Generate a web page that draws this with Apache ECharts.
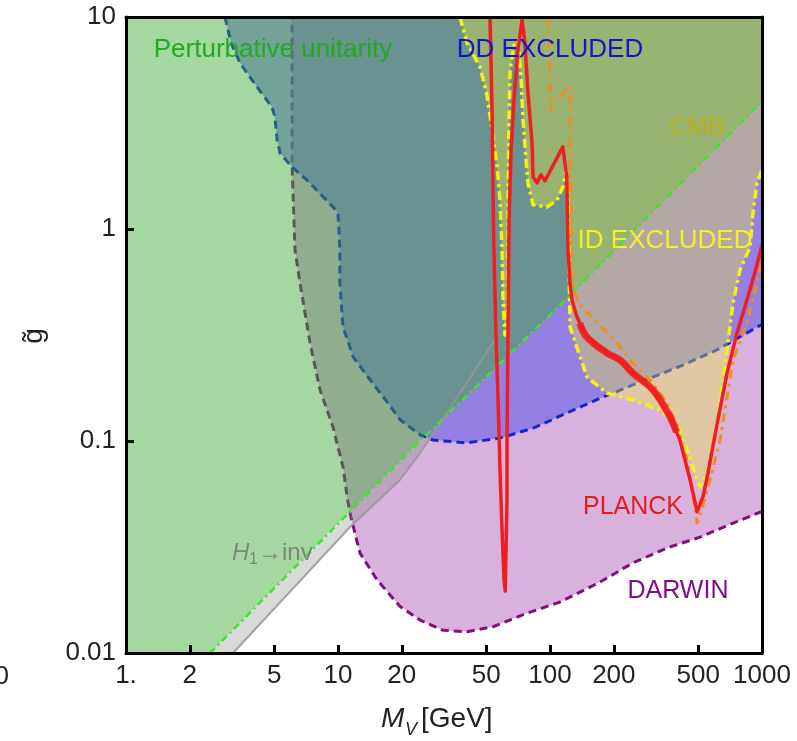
<!DOCTYPE html>
<html>
<head>
<meta charset="utf-8">
<script src="https://cdn.jsdelivr.net/npm/echarts@6/dist/echarts.min.js"></script>
<style>
html, body { margin: 0; padding: 0; background: #fff; }
#chart { width: 797px; height: 741px; }
</style>
</head>
<body>
<div id="chart"></div>
<script>
// Axis ranges and tick values (mass in GeV, coupling g~)
const massRange = [1, 1000];
const couplingRange = [0.01, 10];
const massTicks = [1, 2, 5, 10, 20, 50, 100, 200, 500, 1000];
const couplingTicks = [0.01, 0.1, 1, 10];

// Perturbative unitarity bound (region above/left is excluded)
const unitarityLine = [[2.49, 0.01], [24.4, 0.1], [120, 0.47], [1000, 4.0]];

// Direct detection exclusion boundary (excluded above)
const ddBoundary = [
  [2.93, 10], [3.13, 7.54], [3.45, 6.07], [4.15, 4.68], [4.88, 3.76], [5.04, 3.38],
  [5.16, 2.63], [5.33, 2.28], [6.07, 1.96], [7.14, 1.70], [9.47, 1.27], [10.0, 1.19],
  [10.1, 0.99], [10.2, 0.80], [10.2, 0.556], [10.56, 0.345], [11.8, 0.249], [14.2, 0.194],
  [17.2, 0.151], [19.6, 0.126], [24.4, 0.107], [28.1, 0.101], [40.6, 0.098], [58.1, 0.1033],
  [83.2, 0.115], [120, 0.1355], [172, 0.159], [246, 0.184], [424, 0.228], [613, 0.269],
  [1000, 0.355]
];

// DARWIN projected sensitivity
const darwinBoundary = [
  [1000, 0.0465], [979, 0.0458], [730, 0.041], [510, 0.0352], [356, 0.0313], [246, 0.0266],
  [172, 0.0216], [111.5, 0.0174], [77.9, 0.0154], [53.8, 0.0133], [40.6, 0.0126], [31.3, 0.0128],
  [24.4, 0.0143], [19.6, 0.0166], [15.3, 0.0221], [12.7, 0.0296], [11.5, 0.0438], [11.1, 0.0527],
  [10.56, 0.0754], [9.47, 0.1164], [8.23, 0.174], [7.38, 0.29], [6.62, 0.556], [6.27, 0.796],
  [6.07, 2.0], [6.07, 10]
];

// Invisible Higgs decay limit
const h1invLine = [[3.2, 0.01], [11.4, 0.0393], [19.6, 0.0655], [24.4, 0.0878], [37.6, 0.168], [55, 0.30]];
const h1invBand = [[2.49, 0.01], [30, 0.122], [24.4, 0.0878], [19.6, 0.0655], [11.4, 0.0393], [3.2, 0.01]];

// Indirect detection exclusion boundary
const idBoundary = [
  [37.6, 10], [40.6, 7.54], [46.8, 5.81], [50.4, 4.29], [53.3, 2.93], [56.2, 2.0], [58.1, 1.37],
  [59.4, 0.796], [60.0, 0.462], [61.3, 0.316], [63.4, 0.462], [63.4, 1.37], [64.1, 3.27],
  [64.8, 5.63], [67.6, 7.37], [70.6, 7.78], [73.0, 5.21], [74.6, 3.27], [77.1, 2.12], [78.7, 1.65],
  [83.2, 1.30], [96.8, 1.27], [108, 1.37], [115, 1.58], [119, 1.90], [121.6, 1.37], [122.9, 0.714],
  [124.3, 0.345], [149.5, 0.2], [185.8, 0.168], [246, 0.156], [330, 0.14], [397, 0.119],
  [443, 0.0907], [494, 0.0655], [510, 0.0607], [550, 0.0706], [613, 0.1164], [655, 0.194],
  [684, 0.269], [730, 0.448], [787, 0.641], [878, 0.823], [907, 1.19], [947, 1.65], [1000, 1.90]
];

// CMB constraint contour
const cmbLine = [
  [97.9, 10], [98.9, 6.99], [100, 5.04], [101, 3.64], [105.6, 4.06], [111.5, 4.19], [119, 4.53],
  [124.3, 4.68], [124.3, 2.19], [125.6, 1.37], [125.6, 0.714], [128.4, 0.516], [138.5, 0.438],
  [154.4, 0.393], [172, 0.352], [207, 0.29], [246, 0.233], [296, 0.194], [349, 0.156], [397, 0.119],
  [443, 0.0813], [473, 0.0556], [494, 0.041], [527, 0.0499], [568, 0.0655], [634, 0.101],
  [684, 0.161], [730, 0.241], [849, 0.36], [947, 0.556], [1000, 0.699]
];

// Planck relic density curve
const planckCurve = [
  [52.1, 10], [53.3, 3.64], [53.8, 1.58], [54.4, 0.796], [55.5, 0.334], [56.9, 0.156],
  [58.1, 0.0731], [59.4, 0.038], [60.7, 0.0221], [61.5, 0.0196], [62.7, 0.0198], [62.7, 0.0527],
  [62.7, 0.104], [63.4, 0.334], [64.1, 1.10], [65.5, 2.36], [67.6, 4.06], [70.6, 7.0], [73.8, 9.68],
  [76.2, 7.54], [78.7, 4.38], [82.3, 2.54], [83.2, 1.76], [86.9, 1.65], [90.7, 1.80], [94.7, 1.69],
  [115, 2.44], [120, 1.76], [121.6, 0.796], [124.3, 0.556], [127, 0.462], [134, 0.384],
  [149.5, 0.309], [185.8, 0.26], [214, 0.241], [246, 0.209], [306, 0.174], [368, 0.13],
  [410, 0.101], [458, 0.0655], [494, 0.0464], [527, 0.0546], [550, 0.0668], [613, 0.119],
  [684, 0.209], [762, 0.323], [849, 0.462], [927, 0.627], [1000, 0.84]
];
const planckBand = [[138, 0.36], [149.5, 0.309], [185.8, 0.26], [214, 0.241], [246, 0.209], [306, 0.174], [368, 0.13], [395, 0.11]];

const FONT = "'Liberation Sans', Arial, sans-serif";

const topRight = [massRange[1], couplingRange[1]];
const topLeft = [massRange[0], couplingRange[1]];
const bottomLeft = [massRange[0], couplingRange[0]];

function region(name, pts, fill, z) {
  return {
    name, type: 'custom', coordinateSystem: 'cartesian2d', z, silent: true, animation: false,
    data: [[massRange[0], 1]],
    renderItem(params, api) {
      return {
        type: 'polygon',
        shape: { points: pts.map(p => api.coord(p)) },
        style: { fill }
      };
    }
  };
}

function curve(name, pts, color, width, type, z, smooth) {
  return {
    name, type: 'line', data: pts, z, showSymbol: false, symbol: 'none', silent: true,
    animation: false, smooth: smooth || false,
    lineStyle: { color, width, type, cap: 'butt', join: 'round' }
  };
}

const series = [
  region('DARWIN', darwinBoundary.concat([topRight]), 'rgb(216,178,220)', 1),
  curve('DARWIN line', darwinBoundary, '#80107f', 3, [8, 5], 2),
  region('H1 inv', h1invBand, 'rgba(128,128,128,0.30)', 3),
  region('DD', ddBoundary.concat([topRight]), 'rgba(103,95,230,0.6)', 4),
  curve('DD line', ddBoundary, '#1428d2', 3, [8, 5], 5),
  region('Unitarity', unitarityLine.concat([topRight, topLeft, bottomLeft]), 'rgba(55,168,44,0.45)', 6),
  region('ID', idBoundary.concat([topRight]), 'rgba(236,238,62,0.36)', 7),
  curve('H1 inv line', h1invLine, 'rgba(150,150,150,0.85)', 2, 'solid', 8),
  curve('Unitarity line', unitarityLine, '#3ce628', 2.5, [7, 4, 2, 4], 9),
  curve('CMB line', cmbLine, '#f58c1e', 3, [9, 5, 3, 5], 10),
  curve('ID line', idBoundary, '#f8f010', 3.5, [9, 4, 3, 4], 11),
  curve('Planck band', planckBand, 'rgba(240,30,30,0.9)', 7, 'solid', 12, 0.4),
  curve('Planck', planckCurve, '#f01e1e', 3.5, 'solid', 13)
];

function massLabel(v) {
  if (Math.abs(v - 1) < 1e-9) return '1.';
  return String(Math.round(v));
}
function couplingLabel(v) {
  return String(parseFloat(v.toPrecision(3)));
}

const axisLine = { show: true, onZero: false, lineStyle: { color: '#000', width: 3 } };

const option = {
  backgroundColor: '#fff',
  animation: false,
  grid: { left: 126, right: 35, top: 17, bottom: 88, containLabel: false },
  xAxis: [
    {
      type: 'log', logBase: 10, min: massRange[0], max: massRange[1], position: 'bottom', z: 50,
      axisLine,
      axisTick: { show: true, inside: true, length: 8, customValues: massTicks, lineStyle: { color: '#000', width: 3 } },
      axisLabel: { show: true, customValues: massTicks, formatter: massLabel, fontSize: 26, fontFamily: FONT, color: '#222', margin: 10 },
      splitLine: { show: false }, minorTick: { show: false }
    },
    {
      type: 'log', logBase: 10, min: massRange[0], max: massRange[1], position: 'top', z: 50,
      axisLine, axisTick: { show: false }, axisLabel: { show: false }, splitLine: { show: false }
    }
  ],
  yAxis: [
    {
      type: 'log', logBase: 10, min: couplingRange[0], max: couplingRange[1], position: 'left', z: 50,
      axisLine,
      axisTick: { show: true, inside: true, length: 8, customValues: couplingTicks, lineStyle: { color: '#000', width: 3 } },
      axisLabel: { show: true, customValues: couplingTicks, formatter: couplingLabel, fontSize: 26, fontFamily: FONT, color: '#222', margin: 10 },
      splitLine: { show: false }, minorTick: { show: false }
    },
    {
      type: 'log', logBase: 10, min: couplingRange[0], max: couplingRange[1], position: 'right', z: 50,
      axisLine, axisTick: { show: false }, axisLabel: { show: false }, splitLine: { show: false }
    }
  ],
  series,
  graphic: [
    { type: 'text', x: 273, y: 50, z: 100, style: { text: 'Perturbative unitarity', fill: '#22aa22', font: '26px ' + FONT, textAlign: 'center', textVerticalAlign: 'middle', align: 'center', verticalAlign: 'middle' } },
    { type: 'text', x: 550, y: 50, z: 100, style: { text: 'DD EXCLUDED', fill: '#1414c8', font: '26px ' + FONT, textAlign: 'center', textVerticalAlign: 'middle', align: 'center', verticalAlign: 'middle' } },
    { type: 'text', x: 697, y: 128, z: 100, style: { text: 'CMB', fill: '#bcae1c', font: '25px ' + FONT, textAlign: 'center', textVerticalAlign: 'middle', align: 'center', verticalAlign: 'middle' } },
    { type: 'text', x: 665, y: 241, z: 100, style: { text: 'ID EXCLUDED', fill: '#f2f028', font: '26px ' + FONT, textAlign: 'center', textVerticalAlign: 'middle', align: 'center', verticalAlign: 'middle' } },
    { type: 'text', x: 633, y: 507, z: 100, style: { text: 'PLANCK', fill: '#e41c1c', font: '25px ' + FONT, textAlign: 'center', textVerticalAlign: 'middle', align: 'center', verticalAlign: 'middle' } },
    { type: 'text', x: 678, y: 591, z: 100, style: { text: 'DARWIN', fill: '#820e82', font: '25px ' + FONT, textAlign: 'center', textVerticalAlign: 'middle', align: 'center', verticalAlign: 'middle' } },
    { type: 'text', x: 232, y: 553, z: 100, style: { text: 'H', fill: 'rgba(120,125,120,0.9)', font: 'italic 24px ' + FONT, textAlign: 'left', textVerticalAlign: 'middle', align: 'left', verticalAlign: 'middle' } },
    { type: 'text', x: 249, y: 560, z: 100, style: { text: '1', fill: 'rgba(120,125,120,0.9)', font: '16px ' + FONT, textAlign: 'left', textVerticalAlign: 'middle', align: 'left', verticalAlign: 'middle' } },
    { type: 'text', x: 258, y: 553, z: 100, style: { text: '→inv', fill: 'rgba(120,125,120,0.9)', font: '24px ' + FONT, textAlign: 'left', textVerticalAlign: 'middle', align: 'left', verticalAlign: 'middle' } },
    { type: 'text', x: 381, y: 719, z: 100, style: { text: 'M', fill: '#222', font: 'italic 28px ' + FONT, textAlign: 'left', textVerticalAlign: 'middle', align: 'left', verticalAlign: 'middle' } },
    { type: 'text', x: 405, y: 730, z: 100, style: { text: 'V', fill: '#222', font: 'italic 18px ' + FONT, textAlign: 'left', textVerticalAlign: 'middle', align: 'left', verticalAlign: 'middle' } },
    { type: 'text', x: 421, y: 719, z: 100, style: { text: '[GeV]', fill: '#222', font: '28px ' + FONT, textAlign: 'left', textVerticalAlign: 'middle', align: 'left', verticalAlign: 'middle' } },
    { type: 'text', x: 34, y: 336, z: 100, rotation: Math.PI / 2, style: { text: 'g\u0303', fill: '#222', font: '28px ' + FONT, textAlign: 'center', textVerticalAlign: 'middle', align: 'center', verticalAlign: 'middle' } },
    { type: 'text', x: 9, y: 677, z: 100, style: { text: '0', fill: '#222', font: '26px ' + FONT, textAlign: 'right', textVerticalAlign: 'middle', align: 'right', verticalAlign: 'middle' } }
  ]
};

const chart = echarts.init(document.getElementById('chart'), null, { renderer: 'canvas' });
chart.setOption(option);
</script>
</body>
</html>
